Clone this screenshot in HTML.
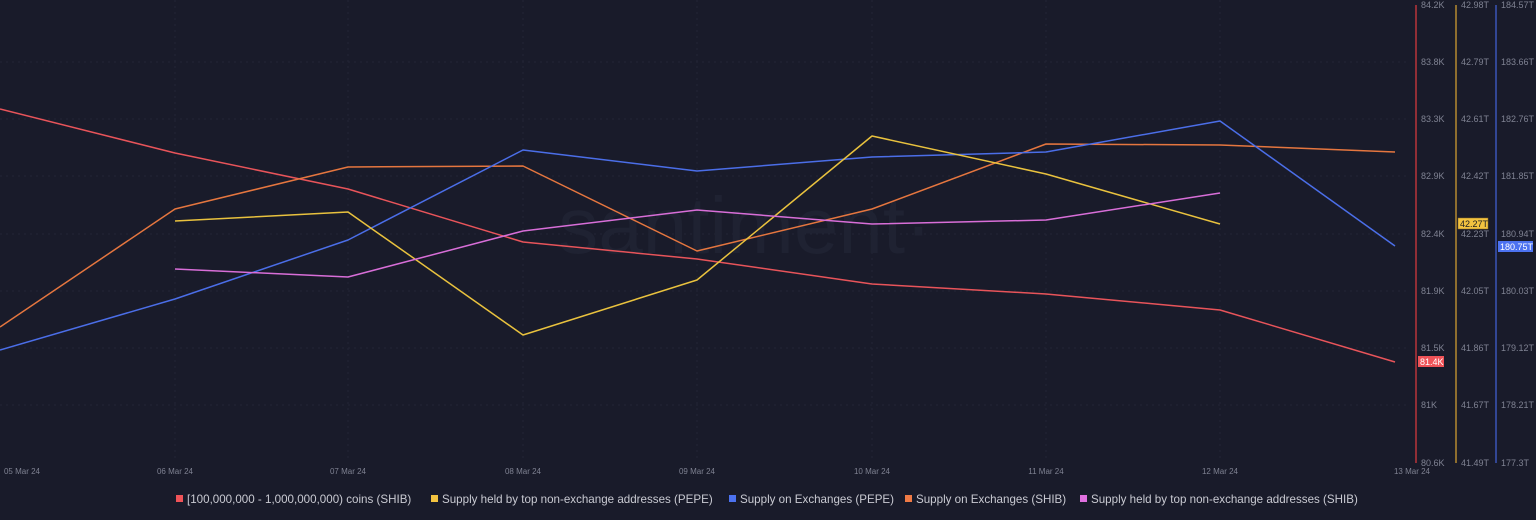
<!DOCTYPE html>
<html><head><meta charset="utf-8"><style>
html,body{margin:0;padding:0;background:#191b2a;}
svg{display:block;font-family:"Liberation Sans",sans-serif;}
</style></head><body>
<svg width="1536" height="520" viewBox="0 0 1536 520" xmlns="http://www.w3.org/2000/svg">
<rect width="1536" height="520" fill="#191b2a"/>
<g stroke="#222535" stroke-width="1" stroke-dasharray="2,4">
<line x1="0" y1="62" x2="1410" y2="62"/><line x1="0" y1="119" x2="1410" y2="119"/>
<line x1="0" y1="176" x2="1410" y2="176"/><line x1="0" y1="234" x2="1410" y2="234"/>
<line x1="0" y1="291" x2="1410" y2="291"/><line x1="0" y1="348" x2="1410" y2="348"/>
<line x1="0" y1="405" x2="1410" y2="405"/>
<line x1="175" y1="0" x2="175" y2="462"/><line x1="348" y1="0" x2="348" y2="462"/>
<line x1="523" y1="0" x2="523" y2="462"/><line x1="697" y1="0" x2="697" y2="462"/>
<line x1="872" y1="0" x2="872" y2="462"/><line x1="1046" y1="0" x2="1046" y2="462"/>
<line x1="1220" y1="0" x2="1220" y2="462"/>
</g>
<text x="745" y="253" text-anchor="middle" font-size="80" fill="#1f2232">santiment·</text>
<g fill="none" stroke-width="1.5" stroke-linejoin="round">
<polyline stroke="#e8545a" points="0,109 175,153 348,189 523,242 697,259 872,284 1046,294 1220,310 1395,362"/>
<polyline stroke="#e5763f" points="0,327 175,209 348,167 523,166 697,251 872,209 1046,144 1220,145 1395,152"/>
<polyline stroke="#4b6ee8" points="0,350 175,299 348,240 523,150 697,171 872,157 1046,152 1220,121 1395,246"/>
<polyline stroke="#e9c23e" points="175,221 348,212 523,335 697,280 872,136 1046,174 1220,224"/>
<polyline stroke="#d86ed8" points="175,269 348,277 523,231 697,210 872,224 1046,220 1220,193"/>
</g>
<line x1="1416" y1="5" x2="1416" y2="463" stroke="#b9353a" stroke-width="1.5"/>
<line x1="1456" y1="5" x2="1456" y2="463" stroke="#b58a2f" stroke-width="1.5"/>
<line x1="1496" y1="5" x2="1496" y2="463" stroke="#3b55b8" stroke-width="1.5"/>
<g font-size="9" fill="#7f8292">
<text x="1421" y="8">84.2K</text><text x="1421" y="65">83.8K</text><text x="1421" y="122">83.3K</text>
<text x="1421" y="179">82.9K</text><text x="1421" y="237">82.4K</text><text x="1421" y="294">81.9K</text>
<text x="1421" y="351">81.5K</text><text x="1421" y="408">81K</text><text x="1421" y="466">80.6K</text>
<text x="1461" y="8">42.98T</text><text x="1461" y="65">42.79T</text><text x="1461" y="122">42.61T</text>
<text x="1461" y="179">42.42T</text><text x="1461" y="237">42.23T</text><text x="1461" y="294">42.05T</text>
<text x="1461" y="351">41.86T</text><text x="1461" y="408">41.67T</text><text x="1461" y="466">41.49T</text>
<text x="1501" y="8">184.57T</text><text x="1501" y="65">183.66T</text><text x="1501" y="122">182.76T</text>
<text x="1501" y="179">181.85T</text><text x="1501" y="237">180.94T</text><text x="1501" y="294">180.03T</text>
<text x="1501" y="351">179.12T</text><text x="1501" y="408">178.21T</text><text x="1501" y="466">177.3T</text>
</g>
<rect x="1418" y="356" width="26" height="11" fill="#ef5358"/>
<text x="1420" y="365" font-size="9" fill="#fff">81.4K</text>
<rect x="1458" y="218" width="30" height="11" fill="#f3c340" stroke="#8a6a20" stroke-width="0.5"/>
<text x="1460" y="227" font-size="9" fill="#222">42.27T</text>
<rect x="1498" y="241" width="35" height="11" fill="#4c72f0"/>
<text x="1500" y="250" font-size="9" fill="#fff">180.75T</text>
<g font-size="8" fill="#7f8292" text-anchor="middle">
<text x="22" y="474">05 Mar 24</text><text x="175" y="474">06 Mar 24</text><text x="348" y="474">07 Mar 24</text>
<text x="523" y="474">08 Mar 24</text><text x="697" y="474">09 Mar 24</text><text x="872" y="474">10 Mar 24</text>
<text x="1046" y="474">11 Mar 24</text><text x="1220" y="474">12 Mar 24</text><text x="1412" y="474">13 Mar 24</text>
</g>
<g font-size="11.6" fill="#c9cad2">
<rect x="176" y="495" width="7" height="7" fill="#ef5358"/><text x="187" y="503">[100,000,000 - 1,000,000,000) coins (SHIB)</text>
<rect x="431" y="495" width="7" height="7" fill="#f3c340"/><text x="442" y="503">Supply held by top non-exchange addresses (PEPE)</text>
<rect x="729" y="495" width="7" height="7" fill="#4c72f0"/><text x="740" y="503">Supply on Exchanges (PEPE)</text>
<rect x="905" y="495" width="7" height="7" fill="#ef7a45"/><text x="916" y="503">Supply on Exchanges (SHIB)</text>
<rect x="1080" y="495" width="7" height="7" fill="#e070e0"/><text x="1091" y="503">Supply held by top non-exchange addresses (SHIB)</text>
</g>
</svg>
</body></html>
